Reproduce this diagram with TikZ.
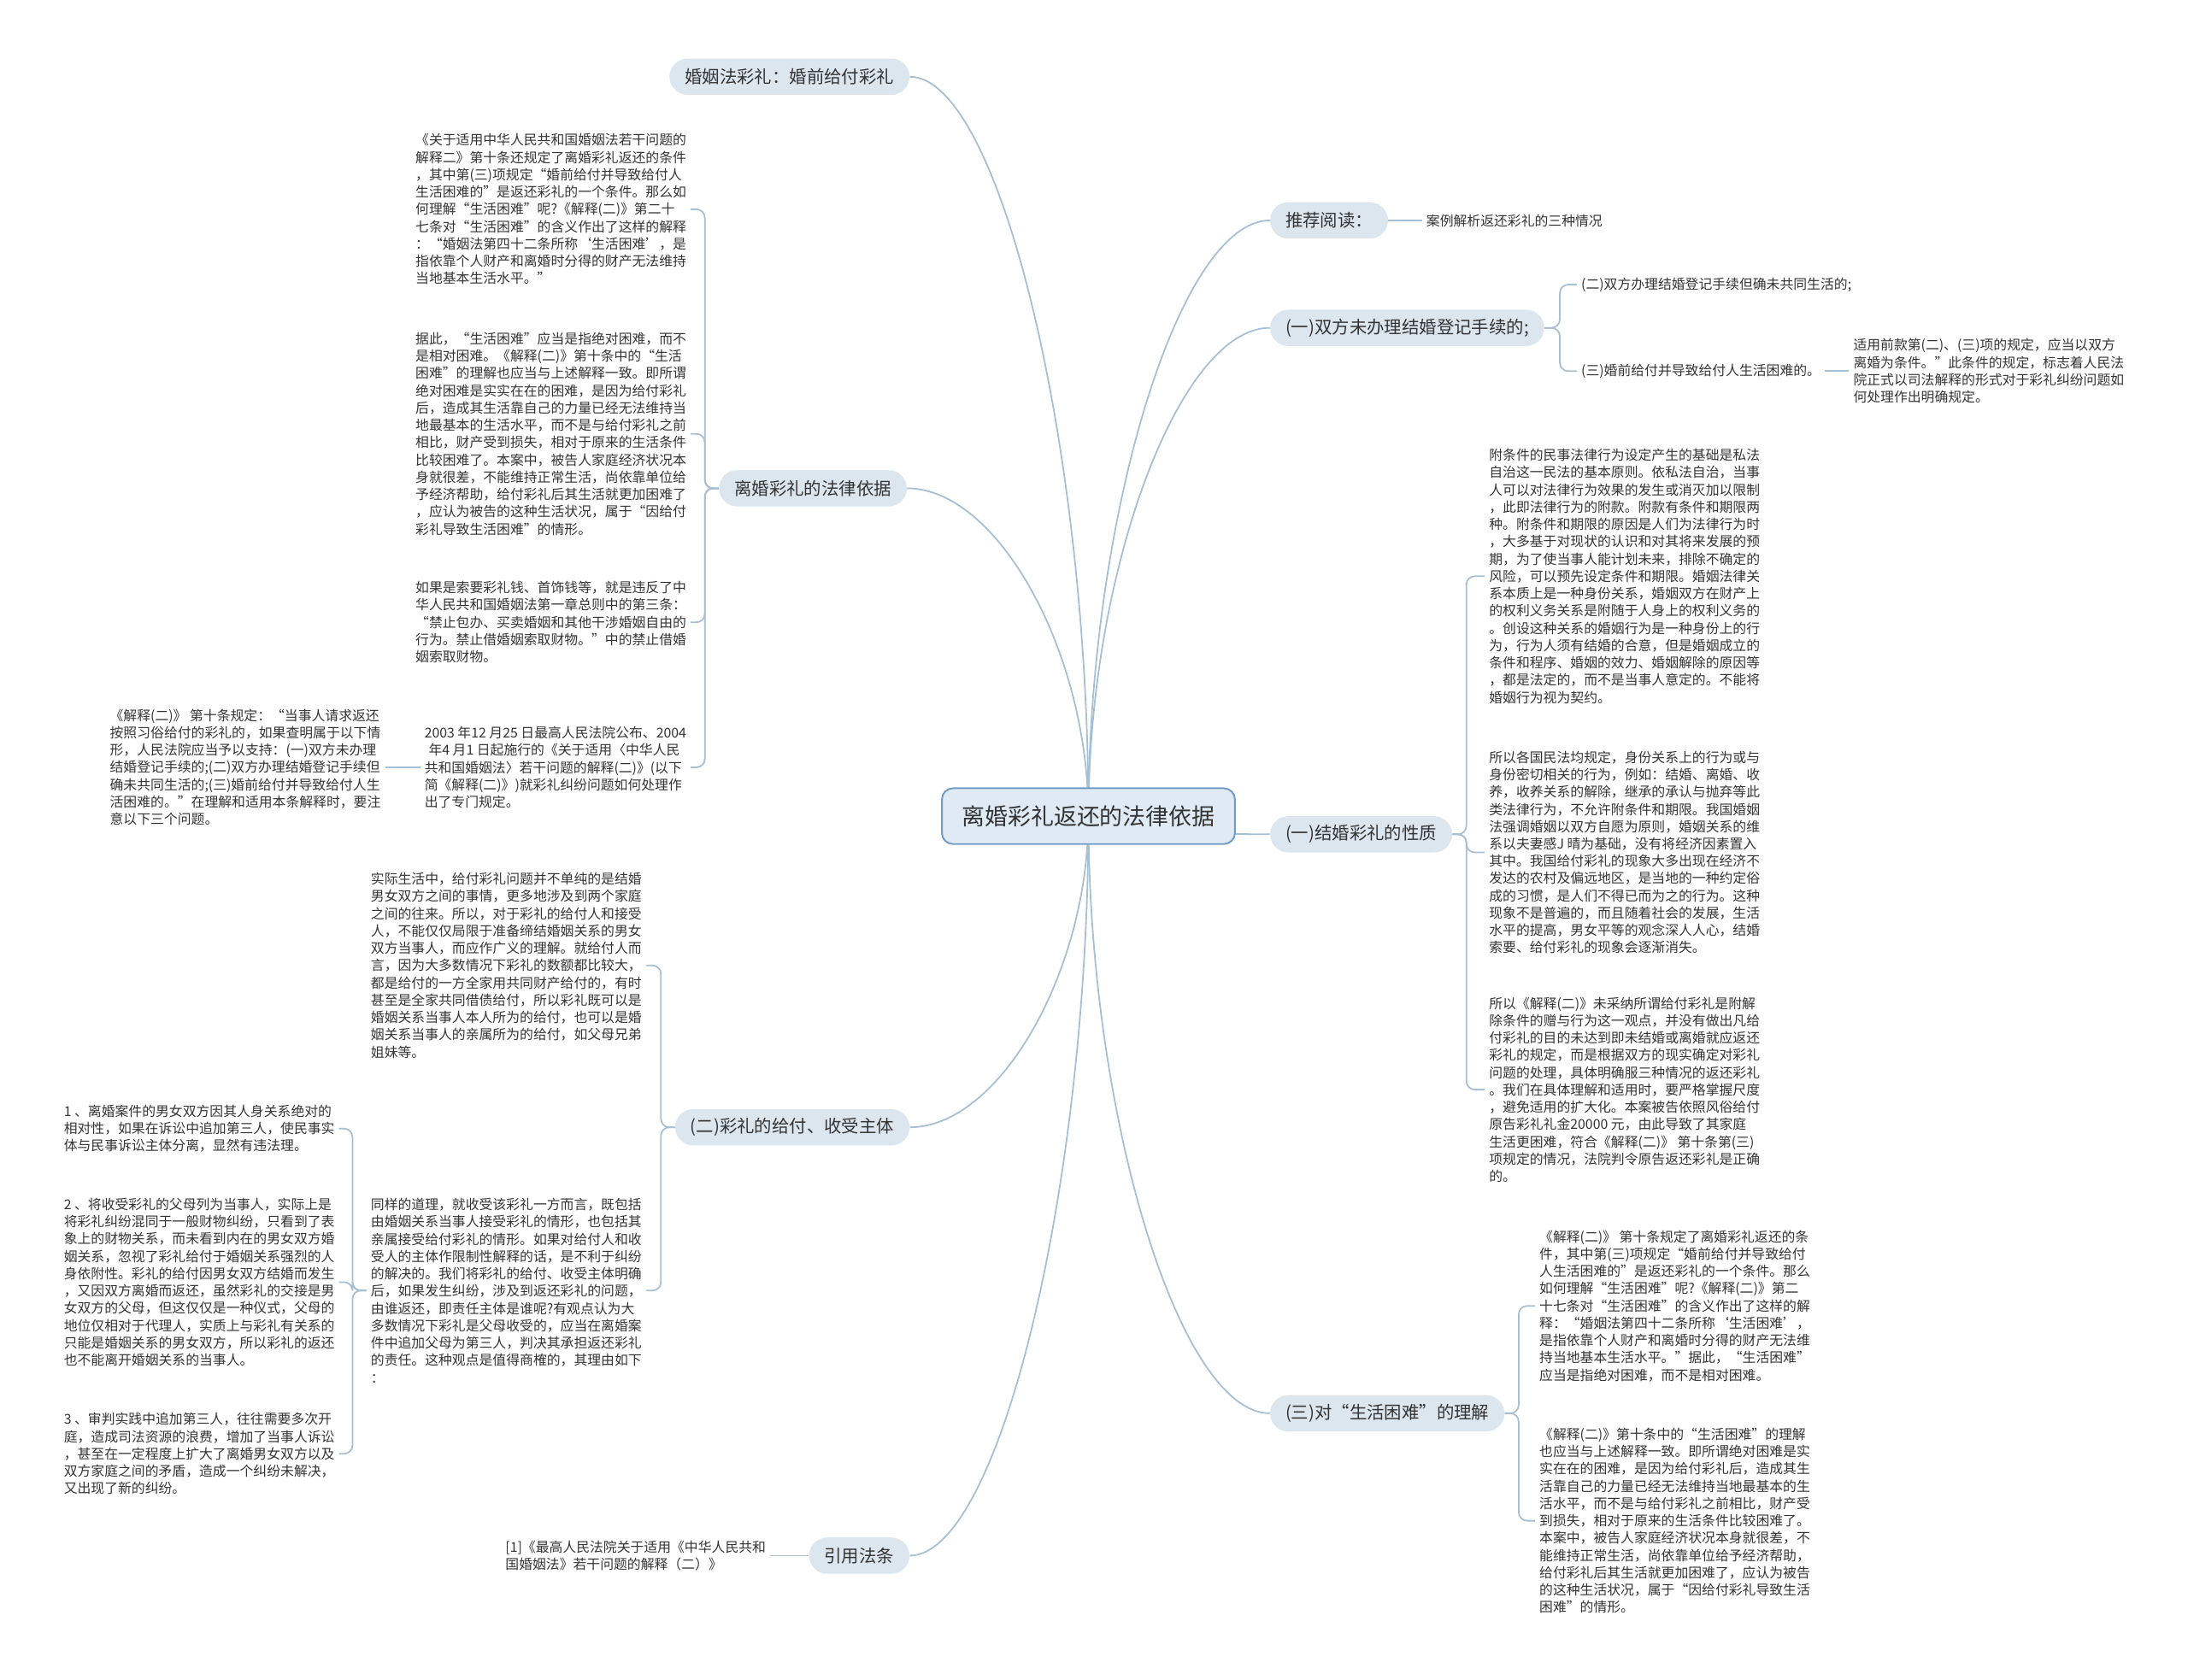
\documentclass[tikz,border=0pt]{standalone}
\usepackage{fontspec}
\setmainfont{Noto Sans CJK SC}
\usetikzlibrary{backgrounds,calc}
\definecolor{linec}{HTML}{A7BFD3}
\definecolor{pillc}{HTML}{DCE6EE}
\definecolor{rootc}{HTML}{DFEAF4}
\definecolor{rootl}{HTML}{6E9CC6}
\definecolor{inkc}{HTML}{333333}
\tikzset{
  link/.style={draw=linec, line width=1.1pt},
  brace/.style={rounded corners=6pt},
  rootbox/.style={fill=rootc, draw=rootl, line width=1.2pt, rounded corners=8pt,
    minimum height=40pt, minimum width=210pt, text=inkc, font=\fontsize{16.5}{18}\selectfont},
  topic/.style={fill=pillc, rounded corners=13pt, minimum height=26pt, inner xsep=11pt,
    text=inkc, font=\fontsize{12.5}{14}\selectfont},
  leaf/.style={align=left, inner sep=3pt, text=inkc, font=\fontsize{9.7}{12.4}\selectfont}
}
\begin{document}
\begin{tikzpicture}[x=1pt,y=-1pt]
\useasboundingbox (0,0) rectangle (1568,1204);
% centre
\node[rootbox] (root) at (780,585) {离婚彩礼返还的法律依据};
% left topics
\node[topic,anchor=east] (t1) at (652,55) {婚姻法彩礼：婚前给付彩礼};
\node[topic,anchor=east] (t2) at (650,350) {离婚彩礼的法律依据};
\node[topic,anchor=east] (t3) at (652,808) {(二)彩礼的给付、收受主体};
\node[topic,anchor=east] (t4) at (652,1115) {引用法条};
% right topics
\node[topic,anchor=west] (t5) at (910,158) {推荐阅读：};
\node[topic,anchor=west] (t6) at (910,235) {(一)双方未办理结婚登记手续的;};
\node[topic,anchor=west] (t7) at (910,598) {(一)结婚彩礼的性质};
\node[topic,anchor=west] (t8) at (910,1013) {(三)对“生活困难”的理解};

% leaves of t2
\node[leaf,anchor=east] (l1) at (495,150) {《关于适用中华人民共和国婚姻法若干问题的\\解释二》第十条还规定了离婚彩礼返还的条件\\，其中第(三)项规定“婚前给付并导致给付人\\生活困难的”是返还彩礼的一个条件。那么如\\何理解“生活困难”呢?《解释(二)》第二十\\七条对“生活困难”的含义作出了这样的解释\\：“婚姻法第四十二条所称‘生活困难’，是\\指依靠个人财产和离婚时分得的财产无法维持\\当地基本生活水平。”};
\node[leaf,anchor=east] (l2) at (495,311) {据此，“生活困难”应当是指绝对困难，而不\\是相对困难。《解释(二)》第十条中的“生活\\困难”的理解也应当与上述解释一致。即所谓\\绝对困难是实实在在的困难，是因为给付彩礼\\后，造成其生活靠自己的力量已经无法维持当\\地最基本的生活水平，而不是与给付彩礼之前\\相比，财产受到损失，相对于原来的生活条件\\比较困难了。本案中，被告人家庭经济状况本\\身就很差，不能维持正常生活，尚依靠单位给\\予经济帮助，给付彩礼后其生活就更加困难了\\，应认为被告的这种生活状况，属于“因给付\\彩礼导致生活困难”的情形。};
\node[leaf,anchor=east] (l3) at (495,446) {如果是索要彩礼钱、首饰钱等，就是违反了中\\华人民共和国婚姻法第一章总则中的第三条：\\“禁止包办、买卖婚姻和其他干涉婚姻自由的\\行为。禁止借婚姻索取财物。”中的禁止借婚\\姻索取财物。};
\node[leaf,anchor=east] (l4) at (495,550) {2003 年12 月25 日最高人民法院公布、2004\\\hspace*{0.3em}年4 月1 日起施行的《关于适用〈中华人民\\共和国婚姻法〉若干问题的解释(二)》(以下\\简《解释(二)》)就彩礼纠纷问题如何处理作\\出了专门规定。};
\node[leaf,anchor=east] (l5) at (276,550) {《解释(二)》 第十条规定：“当事人请求返还\\按照习俗给付的彩礼的，如果查明属于以下情\\形，人民法院应当予以支持：(一)双方未办理\\结婚登记手续的;(二)双方办理结婚登记手续但\\确未共同生活的;(三)婚前给付并导致给付人生\\活困难的。”在理解和适用本条解释时，要注\\意以下三个问题。};

% leaves of t3
\node[leaf,anchor=east] (m1) at (463,692) {实际生活中，给付彩礼问题并不单纯的是结婚\\男女双方之间的事情，更多地涉及到两个家庭\\之间的往来。所以，对于彩礼的给付人和接受\\人，不能仅仅局限于准备缔结婚姻关系的男女\\双方当事人，而应作广义的理解。就给付人而\\言，因为大多数情况下彩礼的数额都比较大，\\都是给付的一方全家用共同财产给付的，有时\\甚至是全家共同借债给付，所以彩礼既可以是\\婚姻关系当事人本人所为的给付，也可以是婚\\姻关系当事人的亲属所为的给付，如父母兄弟\\姐妹等。};
\node[leaf,anchor=east] (m2) at (463,925) {同样的道理，就收受该彩礼一方而言，既包括\\由婚姻关系当事人接受彩礼的情形，也包括其\\亲属接受给付彩礼的情形。如果对给付人和收\\受人的主体作限制性解释的话，是不利于纠纷\\的解决的。我们将彩礼的给付、收受主体明确\\后，如果发生纠纷，涉及到返还彩礼的问题，\\由谁返还，即责任主体是谁呢?有观点认为大\\多数情况下彩礼是父母收受的，应当在离婚案\\件中追加父母为第三人，判决其承担返还彩礼\\的责任。这种观点是值得商榷的，其理由如下\\：};
\node[leaf,anchor=east] (n1) at (243,809) {1 、离婚案件的男女双方因其人身关系绝对的\\相对性，如果在诉讼中追加第三人，使民事实\\体与民事诉讼主体分离，显然有违法理。};
\node[leaf,anchor=east] (n2) at (243,919) {2 、将收受彩礼的父母列为当事人，实际上是\\将彩礼纠纷混同于一般财物纠纷，只看到了表\\象上的财物关系，而未看到内在的男女双方婚\\姻关系，忽视了彩礼给付于婚姻关系强烈的人\\身依附性。彩礼的给付因男女双方结婚而发生\\，又因双方离婚而返还，虽然彩礼的交接是男\\女双方的父母，但这仅仅是一种仪式，父母的\\地位仅相对于代理人，实质上与彩礼有关系的\\只能是婚姻关系的男女双方，所以彩礼的返还\\也不能离开婚姻关系的当事人。};
\node[leaf,anchor=east] (n3) at (243,1042) {3 、审判实践中追加第三人，往往需要多次开\\庭，造成司法资源的浪费，增加了当事人诉讼\\，甚至在一定程度上扩大了离婚男女双方以及\\双方家庭之间的矛盾，造成一个纠纷未解决，\\又出现了新的纠纷。};

% leaf of t4
\node[leaf,anchor=east] (cite) at (552,1115) {[1]《最高人民法院关于适用《中华人民共和\\国婚姻法》若干问题的解释（二）》};

% right leaves
\node[leaf,anchor=west] (rd) at (1019,158) {案例解析返还彩礼的三种情况};
\node[leaf,anchor=west] (c1) at (1130,204) {(二)双方办理结婚登记手续但确未共同生活的;};
\node[leaf,anchor=west] (c2) at (1130,266) {(三)婚前给付并导致给付人生活困难的。};
\node[leaf,anchor=west] (c3) at (1325,266) {适用前款第(二)、(三)项的规定，应当以双方\\离婚为条件。”此条件的规定，标志着人民法\\院正式以司法解释的形式对于彩礼纠纷问题如\\何处理作出明确规定。};
\node[leaf,anchor=west] (r1) at (1064,413) {附条件的民事法律行为设定产生的基础是私法\\自治这一民法的基本原则。依私法自治，当事\\人可以对法律行为效果的发生或消灭加以限制\\，此即法律行为的附款。附款有条件和期限两\\种。附条件和期限的原因是人们为法律行为时\\，大多基于对现状的认识和对其将来发展的预\\期，为了使当事人能计划未来，排除不确定的\\风险，可以预先设定条件和期限。婚姻法律关\\系本质上是一种身份关系，婚姻双方在财产上\\的权利义务关系是附随于人身上的权利义务的\\。创设这种关系的婚姻行为是一种身份上的行\\为，行为人须有结婚的合意，但是婚姻成立的\\条件和程序、婚姻的效力、婚姻解除的原因等\\，都是法定的，而不是当事人意定的。不能将\\婚姻行为视为契约。};
\node[leaf,anchor=west] (r2) at (1064,611) {所以各国民法均规定，身份关系上的行为或与\\身份密切相关的行为，例如：结婚、离婚、收\\养，收养关系的解除，继承的承认与抛弃等此\\类法律行为，不允许附条件和期限。我国婚姻\\法强调婚姻以双方自愿为原则，婚姻关系的维\\系以夫妻感J 晴为基础，没有将经济因素置入\\其中。我国给付彩礼的现象大多出现在经济不\\发达的农村及偏远地区，是当地的一种约定俗\\成的习惯，是人们不得已而为之的行为。这种\\现象不是普遍的，而且随着社会的发展，生活\\水平的提高，男女平等的观念深人人心，结婚\\索要、给付彩礼的现象会逐渐消失。};
\node[leaf,anchor=west] (r3) at (1064,781) {所以《解释(二)》未采纳所谓给付彩礼是附解\\除条件的赠与行为这一观点，并没有做出凡给\\付彩礼的目的未达到即未结婚或离婚就应返还\\彩礼的规定，而是根据双方的现实确定对彩礼\\问题的处理，具体明确服三种情况的返还彩礼\\。我们在具体理解和适用时，要严格掌握尺度\\，避免适用的扩大化。本案被告依照风俗给付\\原告彩礼礼金20000 元，由此导致了其家庭\\生活更困难，符合《解释(二)》 第十条第(三)\\项规定的情况，法院判令原告返还彩礼是正确\\的。};
\node[leaf,anchor=west] (r4) at (1100,936) {《解释(二)》 第十条规定了离婚彩礼返还的条\\件，其中第(三)项规定“婚前给付并导致给付\\人生活困难的”是返还彩礼的一个条件。那么\\如何理解“生活困难”呢?《解释(二)》第二\\十七条对“生活困难”的含义作出了这样的解\\释：“婚姻法第四十二条所称‘生活困难’，\\是指依靠个人财产和离婚时分得的财产无法维\\持当地基本生活水平。”据此，“生活困难”\\应当是指绝对困难，而不是相对困难。};
\node[leaf,anchor=west] (r5) at (1100,1090) {《解释(二)》第十条中的“生活困难”的理解\\也应当与上述解释一致。即所谓绝对困难是实\\实在在的困难，是因为给付彩礼后，造成其生\\活靠自己的力量已经无法维持当地最基本的生\\活水平，而不是与给付彩礼之前相比，财产受\\到损失，相对于原来的生活条件比较困难了。\\本案中，被告人家庭经济状况本身就很差，不\\能维持正常生活，尚依靠单位给予经济帮助，\\给付彩礼后其生活就更加困难了，应认为被告\\的这种生活状况，属于“因给付彩礼导致生活\\困难”的情形。};

% connectors
\begin{scope}[on background layer]
\foreach \t in {t1,t2,t3,t4}
  \draw[link] (root.center) .. controls ($(root.center)!0.5!(root.center |- \t.east)$)
    and ($(root.center |- \t.east)!0.5!(\t.east)$) .. (\t.east);
\foreach \t in {t5,t6,t7,t8}
  \draw[link] (root.center) .. controls ($(root.center)!0.5!(root.center |- \t.west)$)
    and ($(root.center |- \t.west)!0.5!(\t.west)$) .. (\t.west);
\foreach \l in {l1,l2,l3,l4}
  \draw[link,brace] (t2.west) -- ++(-10,0) |- (\l.east);
\draw[link] (l4.west) -- (l5.east);
\foreach \l in {m1,m2}
  \draw[link,brace] (t3.west) -- ++(-10,0) |- (\l.east);
\foreach \l in {n1,n2,n3}
  \draw[link,brace] (m2.west) -- ++(-10,0) |- (\l.east);
\draw[link] (t4.west) -- (cite.east);
\draw[link] (t5.east) -- (rd.west);
\foreach \l in {c1,c2}
  \draw[link,brace] (t6.east) -- ++(11,0) |- (\l.west);
\draw[link] (c2.east) -- (c3.west);
\foreach \l in {r1,r2,r3}
  \draw[link,brace] (t7.east) -- ++(10,0) |- (\l.west);
\foreach \l in {r4,r5}
  \draw[link,brace] (t8.east) -- ++(10,0) |- (\l.west);
\end{scope}
\end{tikzpicture}
\end{document}
